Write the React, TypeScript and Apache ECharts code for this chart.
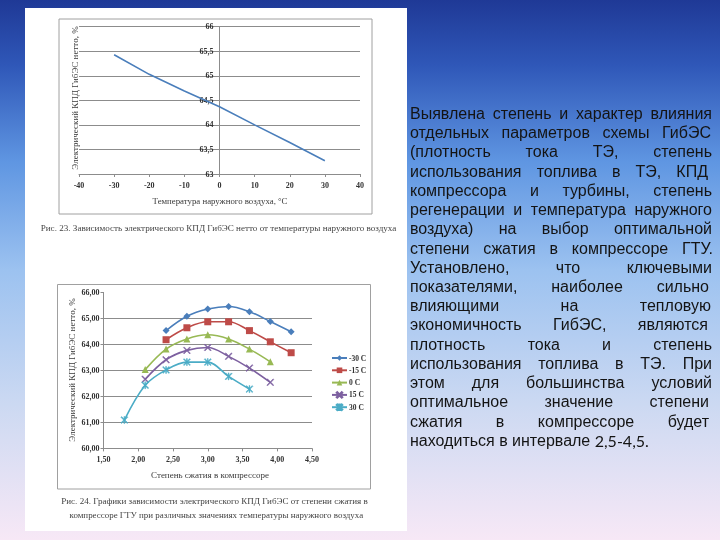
import React, { useEffect, useRef } from "react";
import * as echarts from "echarts";

// ---- Top chart data (Рис. 23) ----
const topTemps = [-30, -20, -10, 0, 10, 20, 30];
const topEff = [65.43, 65.03, 64.69, 64.37, 64.0, 63.64, 63.27];
const topXTicks = { min: -40, max: 40, interval: 10 };
const topYTicks = { min: 63, max: 66, interval: 0.5 };

// ---- Bottom chart data (Рис. 24) ----
const seriesNames = ["-30 С", "-15 С", "0 С", "15 С", "30 С"];
const ratioM30 = [2.4, 2.7, 3.0, 3.3, 3.6, 3.9, 4.2];
const ratioM15 = [2.4, 2.7, 3.0, 3.3, 3.6, 3.9, 4.2];
const ratio0 = [2.1, 2.4, 2.7, 3.0, 3.3, 3.6, 3.9];
const ratioP15 = [2.1, 2.4, 2.7, 3.0, 3.3, 3.6, 3.9];
const ratioP30 = [1.8, 2.1, 2.4, 2.7, 3.0, 3.3, 3.6];
const effM30 = [64.53, 65.08, 65.36, 65.46, 65.26, 64.88, 64.49];
const effM15 = [64.18, 64.64, 64.87, 64.87, 64.53, 64.1, 63.68];
const eff0 = [63.03, 63.82, 64.21, 64.37, 64.21, 63.82, 63.33];
const effP15 = [62.66, 63.41, 63.77, 63.88, 63.54, 63.09, 62.54];
const effP30 = [61.09, 62.43, 63.02, 63.32, 63.32, 62.77, 62.28];
const botXTicks = { min: 1.5, max: 4.5, interval: 0.5 };
const botYTicks = { min: 60, max: 66, interval: 1 };

// ---- Texts ----
const topYTitle = "Электрический КПД ГибЭС нетто, %";
const topXTitle = "Температура наружного воздуха, °С";
const topCaption = "Рис. 23. Зависимость электрического КПД ГибЭС нетто от температуры наружного воздуха";
const botYTitle = "Электрический КПД ГибЭС нетто, %";
const botXTitle = "Степень сжатия в компрессоре";
const botCaption1 = "Рис. 24. Графики зависимости электрического КПД ГибЭС от степени сжатия в";
const botCaption2 = "компрессоре ГТУ при различных значениях температуры наружного воздуха";
const bodyLines = [
  "Выявлена степень и характер влияния",
  "отдельных параметров схемы ГибЭС",
  "(плотность тока ТЭ, степень",
  "использования топлива в ТЭ, КПД",
  "компрессора и турбины, степень",
  "регенерации и температура наружного",
  "воздуха) на выбор оптимальной",
  "степени сжатия в компрессоре ГТУ.",
  "Установлено, что ключевыми",
  "показателями, наиболее сильно",
  "влияющими на тепловую",
  "экономичность ГибЭС, являются",
  "плотность тока и степень",
  "использования топлива в ТЭ. При",
  "этом для большинства условий",
  "оптимальное значение степени",
  "сжатия в компрессоре будет",
  "находиться в интервале 2,5-4,5.",
];

// ---- Layout (not data) ----
const textLeft = 410;
const lineRights = [712, 711, 712, 708, 712, 712, 712, 713, 712, 709, 711, 708, 712, 712, 712, 709, 709];
const textTop = 113.5;
const lineStep = 19.22;
const bodyFontSize = 16;
const bodyFont = '"Liberation Sans", Arial, sans-serif';
const numFont = 'Lato, "Open Sans", sans-serif';
const serif = '"Liberation Serif", "Times New Roman", serif';

const colors = ["#4a7ebb", "#be4b48", "#98b954", "#7d60a0", "#4bacc6"];
const xSymbol = "path://M0,1L1,0L5,4L9,0L10,1L6,5L10,9L9,10L5,6L1,10L0,9L4,5Z";
const starSymbol =
  "path://M0,1L1,0L5,4L9,0L10,1L6,5L10,9L9,10L5,6L1,10L0,9L4,5Z M4.4,0L5.6,0L5.6,10L4.4,10Z";

function zip(xs: number[], ys: number[]) {
  return xs.map((x, i) => [x, ys[i]]);
}

function buildBodyText(): any[] {
  const canvas = document.createElement("canvas");
  const ctx = canvas.getContext("2d") as CanvasRenderingContext2D;
  const font = `${bodyFontSize}px ${bodyFont}`;
  const nfont = `${bodyFontSize}px ${numFont}`;
  ctx.font = font;
  const space = ctx.measureText(" ").width;
  const els: any[] = [];
  bodyLines.forEach((line, i) => {
    const y = textTop + i * lineStep;
    const words = line.split(" ");
    const fonts = words.map((w) => (/^[0-9,.\-]+$/.test(w) ? nfont : font));
    const widths = words.map((w, j) => {
      ctx.font = fonts[j];
      return ctx.measureText(w).width;
    });
    const total = widths.reduce((a, b) => a + b, 0);
    const right = lineRights[i];
    let gap = space;
    let sx = 1;
    if (right !== undefined && words.length > 1) {
      gap = (right - textLeft - total) / (words.length - 1);
      if (gap < space * 0.6) {
        sx = (right - textLeft - space * 0.6 * (words.length - 1)) / total;
        gap = space * 0.6;
      }
    }
    let x = textLeft;
    words.forEach((w, j) => {
      els.push({
        type: "text",
        x,
        y,
        scaleX: sx,
        z: 100,
        style: {
          text: w,
          fill: "#141414",
          font: fonts[j],
          textVerticalAlign: "middle",
          verticalAlign: "middle",
          align: "left",
        },
      });
      x += widths[j] * sx + gap;
    });
  });
  return els;
}

function serifText(text: string, x: number, y: number, size: number, rotate = 0, weight = "normal", color = "#3a3a3a") {
  return {
    type: "text",
    x,
    y,
    rotation: rotate,
    z: 50,
    style: {
      text,
      fill: color,
      font: `${weight} ${size}px ${serif}`,
      align: "center",
      verticalAlign: "middle",
      textVerticalAlign: "middle",
    },
  };
}

export default function App() {
  const ref = useRef<HTMLDivElement>(null);
  useEffect(() => {
    if (!ref.current) return;
    const chart = echarts.init(ref.current, undefined, { renderer: "svg" });
    const tickLabel = { fontFamily: serif, fontSize: 8, fontWeight: "bold" as const, color: "#333" };
    const gridLine = { show: true, lineStyle: { color: "#8c8c8c", width: 1 } };
    const axisLn = { show: true, lineStyle: { color: "#8c8c8c", width: 1 } };
    const mk = (name: string, xs: number[], ys: number[], i: number, symbol: string, size: number) => ({
      name,
      type: "line",
      xAxisIndex: 1,
      yAxisIndex: 1,
      data: zip(xs, ys),
      smooth: 0.35,
      symbol,
      symbolSize: size,
      showSymbol: true,
      lineStyle: { color: colors[i], width: 1.6 },
      itemStyle: { color: colors[i], borderColor: colors[i], borderWidth: symbol.startsWith("path") ? 0.5 : 0 },
      z: 3 + i,
    });
    const option: any = {
      animation: false,
      grid: [
        { left: 79, top: 26.7, width: 281, height: 147.3, containLabel: false },
        { left: 103.5, top: 292.4, width: 208.5, height: 156, containLabel: false },
      ],
      xAxis: [
        {
          gridIndex: 0,
          type: "value",
          ...topXTicks,
          axisLine: { ...axisLn, onZero: false },
          axisTick: { show: true, length: 3, lineStyle: { color: "#8c8c8c" } },
          axisLabel: { ...tickLabel, margin: 7 },
          splitLine: { show: false },
        },
        {
          gridIndex: 1,
          type: "value",
          ...botXTicks,
          axisLine: { ...axisLn, onZero: false },
          axisTick: { show: true, length: 3, lineStyle: { color: "#8c8c8c" } },
          axisLabel: { ...tickLabel, margin: 7, formatter: (v: number) => v.toFixed(2).replace(".", ",") },
          splitLine: { show: false },
        },
      ],
      yAxis: [
        {
          gridIndex: 0,
          type: "value",
          ...topYTicks,
          offset: -140.5,
          axisLine: { ...axisLn, onZero: false },
          axisTick: { show: true, length: 3, lineStyle: { color: "#8c8c8c" } },
          axisLabel: { ...tickLabel, margin: 6, formatter: (v: number) => String(v).replace(".", ",") },
          splitLine: gridLine,
        },
        {
          gridIndex: 1,
          type: "value",
          ...botYTicks,
          axisLine: { ...axisLn, onZero: false },
          axisTick: { show: true, length: 3, lineStyle: { color: "#8c8c8c" } },
          axisLabel: { ...tickLabel, margin: 4, formatter: (v: number) => v.toFixed(2).replace(".", ",") },
          splitLine: { ...gridLine, showMaxLine: false },
        },
      ],
      legend: {
        orient: "vertical",
        left: 331,
        top: 354,
        padding: 0,
        itemWidth: 15,
        itemHeight: 7,
        itemGap: 4.3,
        selectedMode: false,
        data: seriesNames,
        textStyle: { fontFamily: serif, fontSize: 7.5, fontWeight: "bold", color: "#333", padding: [0, 0, 0, -3] },
      },
      series: [
        {
          name: "top",
          type: "line",
          xAxisIndex: 0,
          yAxisIndex: 0,
          data: zip(topTemps, topEff),
          showSymbol: false,
          symbol: "none",
          lineStyle: { color: "#4a7ebb", width: 1.6 },
          itemStyle: { color: "#4a7ebb" },
        },
        mk(seriesNames[0], ratioM30, effM30, 0, "diamond", 7),
        mk(seriesNames[1], ratioM15, effM15, 1, "rect", 7),
        mk(seriesNames[2], ratio0, eff0, 2, "triangle", 7),
        mk(seriesNames[3], ratioP15, effP15, 3, xSymbol, 7),
        mk(seriesNames[4], ratioP30, effP30, 4, starSymbol, 7),
      ],
      graphic: {
        elements: [
          {
            type: "rect",
            z: -100,
            shape: { x: 0, y: 0, width: 720, height: 540 },
            style: {
              fill: new echarts.graphic.LinearGradient(0, 0, 0, 1, [
                { offset: 0, color: "#1f3996" },
                { offset: 0.12, color: "#2f57b8" },
                { offset: 0.3, color: "#5f96e2" },
                { offset: 0.5, color: "#9cc2f0" },
                { offset: 0.75, color: "#ccd9f2" },
                { offset: 1, color: "#f7e8f6" },
              ]),
            },
          },
          {
            type: "rect",
            z: -90,
            shape: { x: 25, y: 8, width: 382, height: 523 },
            style: { fill: "#ffffff" },
          },
          {
            type: "rect",
            z: -80,
            shape: { x: 59, y: 19, width: 313, height: 195 },
            style: { fill: "none", stroke: "#a0a0a0", lineWidth: 1 },
          },
          {
            type: "rect",
            z: -80,
            shape: { x: 57.5, y: 284.5, width: 313, height: 204.5 },
            style: { fill: "none", stroke: "#a0a0a0", lineWidth: 1 },
          },
          serifText(topYTitle, 75, 98, 9, Math.PI / 2),
          serifText(topXTitle, 220, 200.7, 8.8),
          serifText(topCaption, 218.5, 228, 9.1, 0, "normal", "#444"),
          serifText(botYTitle, 71.7, 370, 9, Math.PI / 2),
          serifText(botXTitle, 210, 475.3, 9),
          serifText(botCaption1, 214.5, 500.7, 9.05, 0, "normal", "#444"),
          serifText(botCaption2, 216.3, 515, 8.95, 0, "normal", "#444"),
          ...buildBodyText(),
        ],
      },
    };
    chart.setOption(option);
    return () => chart.dispose();
  }, []);
  return (
    <div
      ref={ref}
      style={{ position: "fixed", left: 0, top: 0, width: 720, height: 540 }}
    />
  );
}
